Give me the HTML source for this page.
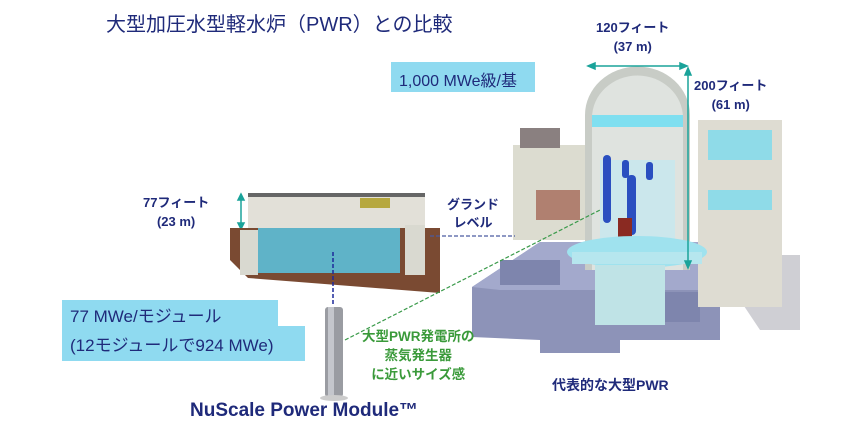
<!DOCTYPE html>
<html><head><meta charset="utf-8"><style>
body{margin:0;width:841px;height:444px;background:#fff;overflow:hidden;position:relative;font-family:"Liberation Sans","Noto Sans CJK JP",sans-serif}
.t{position:absolute;white-space:nowrap;font-weight:bold;color:#1f2a7a}
</style></head><body>
<svg width="841" height="444" style="position:absolute;left:0;top:0">
<!-- right grey floor -->
<polygon points="560,255 800,255 800,330 760,330 740,300 560,300" fill="#cfcfd4"/>
<!-- basement -->
<polygon points="472,287 540,242 760,242 760,300 720,302 720,340 620,340 620,353 540,353 540,340 472,337" fill="#8d93b8"/>
<polygon points="472,287 540,242 760,242 720,290 500,290" fill="#a3a9cc"/>
<rect x="500" y="260" width="60" height="25" fill="#7e85ad"/>
<rect x="640" y="292" width="60" height="30" fill="#7e85ad"/>
<!-- left building -->
<rect x="513" y="145" width="75" height="95" fill="#dcdcd0"/>
<rect x="520" y="128" width="40" height="20" fill="#8a8080"/>
<rect x="536" y="190" width="44" height="30" fill="#b08070"/>
<!-- right building -->
<rect x="698" y="120" width="84" height="187" fill="#dedcd2"/>
<rect x="708" y="130" width="64" height="30" fill="#8fdbe8"/>
<rect x="708" y="190" width="64" height="20" fill="#8fdbe8"/>
<!-- containment -->
<path d="M585,270 L585,115 A52,48 0 0 1 690,115 L690,270 Z" fill="#c8ccc6"/>
<path d="M592,270 L592,118 A45,42 0 0 1 683,118 L683,270 Z" fill="#dfe3df"/>
<rect x="592" y="115" width="91" height="12" fill="#7fdff0"/>
<rect x="600" y="160" width="75" height="90" fill="#cbe7ec"/>
<rect x="603" y="155" width="8" height="68" rx="4" fill="#2a4fc0"/>
<rect x="627" y="175" width="9" height="60" rx="4" fill="#2a4fc0"/>
<rect x="622" y="160" width="7" height="18" rx="3" fill="#2a4fc0"/>
<rect x="646" y="162" width="7" height="18" rx="3" fill="#2a4fc0"/>
<rect x="618" y="218" width="14" height="20" fill="#8a2a22"/>
<ellipse cx="637" cy="252" rx="70" ry="16" fill="#9fe2ee"/>
<rect x="572" y="252" width="130" height="12" fill="#b6e6ee"/>
<rect x="595" y="265" width="70" height="60" fill="#bfe3e6"/>
<!-- arrows -->
<g stroke="#1aa39a" stroke-width="1.5" fill="#1aa39a">
<line x1="592" y1="66" x2="683" y2="66"/><polygon points="588,66 595,63 595,69"/><polygon points="687,66 680,63 680,69"/>
<line x1="688" y1="72" x2="688" y2="264"/><polygon points="688,68 685,75 691,75"/><polygon points="688,268 685,261 691,261"/>
<line x1="241" y1="197" x2="241" y2="226"/><polygon points="241,194 238,200 244,200"/><polygon points="241,229 238,223 244,223"/>
</g>
<!-- small building -->
<polygon points="230,228 440,228 440,293 248,278 230,260" fill="#7a4a32"/>
<rect x="248" y="193" width="177" height="35" fill="#e2e0d8"/>
<rect x="248" y="193" width="177" height="4" fill="#666"/>
<rect x="258" y="228" width="142" height="45" fill="#5fb3c8"/>
<rect x="240" y="230" width="18" height="45" fill="#d9d9d0"/>
<rect x="405" y="225" width="20" height="50" fill="#d9d9d0"/>
<rect x="360" y="198" width="30" height="10" fill="#b6a840"/>
<!-- dashed lines -->
<line x1="430" y1="236" x2="515" y2="236" stroke="#4a5aa0" stroke-width="1.2" stroke-dasharray="4,2"/>
<line x1="333" y1="252" x2="333" y2="305" stroke="#1f2a9a" stroke-width="1.5" stroke-dasharray="4,2"/>
<line x1="345" y1="340" x2="600" y2="210" stroke="#3a9a4a" stroke-width="1.2" stroke-dasharray="4,2"/>
<!-- module -->
<rect x="325" y="307" width="18" height="90" rx="3" fill="#9a9ca2"/>
<rect x="328" y="307" width="6" height="90" fill="#c4c6cc"/>
<ellipse cx="334" cy="398" rx="14" ry="3" fill="#ccc"/>
<!-- blue boxes -->
<rect x="391" y="62" width="144" height="30" fill="#8fdaf0"/>
<rect x="62" y="300" width="216" height="26" fill="#8fdaf0"/>
<rect x="62" y="326" width="243" height="35" fill="#8fdaf0"/>
</svg>
<div class="t" style="left:106px;top:8px;font-size:20px;font-weight:normal;color:#1f2a7a">大型加圧水型軽水炉（PWR）との比較</div>
<div class="t" style="left:596px;top:18px;font-size:13px;text-align:center;line-height:19px">120フィート<br>(37 m)</div>
<div class="t" style="left:694px;top:76px;font-size:13px;text-align:center;line-height:19px">200フィート<br>(61 m)</div>
<div class="t" style="left:399px;top:67px;font-size:16px;font-weight:normal;color:#1f2a7a">1,000 MWe級/基</div>
<div class="t" style="left:143px;top:193px;font-size:13px;text-align:center;line-height:19px">77フィート<br>(23 m)</div>
<div class="t" style="left:447px;top:196px;font-size:13px;text-align:center;line-height:18px">グランド<br>レベル</div>
<div class="t" style="left:70px;top:302px;font-size:17px;font-weight:normal;line-height:29px">77 MWe/モジュール<br>(12モジュールで924 MWe)</div>
<div class="t" style="left:362px;top:327px;font-size:13.5px;color:#3a9a3a;text-align:center;line-height:19px">大型PWR発電所の<br>蒸気発生器<br>に近いサイズ感</div>
<div class="t" style="left:552px;top:375px;font-size:14px">代表的な大型PWR</div>
<div class="t" style="left:190px;top:400px;font-size:19px">NuScale Power Module™</div>
</body></html>
